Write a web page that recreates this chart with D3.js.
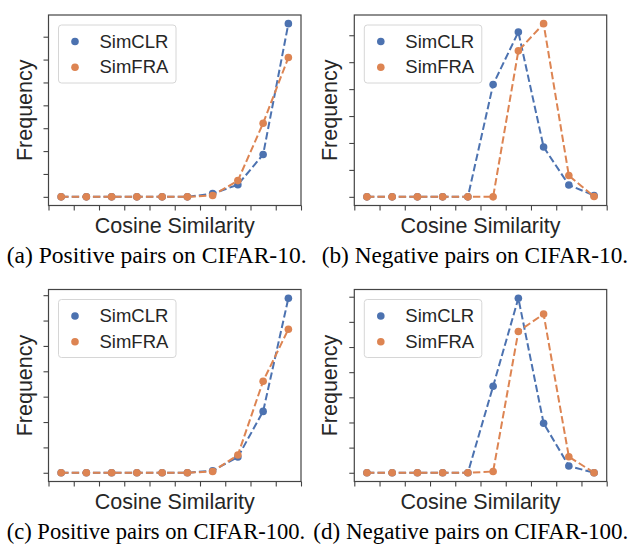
<!DOCTYPE html>
<html>
<head>
<meta charset="utf-8">
<script src="https://cdn.jsdelivr.net/npm/d3@7"></script>
<style>
body { margin: 0; background: #fff; }
svg { display: block; }
</style>
</head>
<body>
<script>
// bin centres along cosine similarity, and the x tick positions
var binCenters = [0.05, 0.15, 0.25, 0.35, 0.45, 0.55, 0.65, 0.75, 0.85, 0.95];
var xTicks = [0, 0.1, 0.2, 0.3, 0.4, 0.5, 0.6, 0.7, 0.8, 0.9, 1.0];
var seriesNames = ["SimCLR", "SimFRA"];

// frequencies (arbitrary units, one unit = one y tick)
var posC10_simclr = [0, 0, 0, 0, 0, 0, 0.14, 0.53, 1.85, 7.57];
var posC10_simfra = [0, 0, 0, 0, 0, 0, 0.06, 0.71, 3.22, 6.09];
var negC10_simclr = [0, 0, 0, 0, 0, 4.17, 6.12, 1.85, 0.44, 0.05];
var negC10_simfra = [0, 0, 0, 0, 0, 0, 5.42, 6.43, 0.79, 0.01];
var posC100_simclr = [0, 0, 0, 0, 0, 0, 0.08, 0.62, 2.42, 6.88];
var posC100_simfra = [0, 0, 0, 0, 0, 0, 0.05, 0.70, 3.61, 5.66];
var negC100_simclr = [0, 0, 0, 0, 0, 3.44, 6.94, 1.97, 0.27, 0];
var negC100_simfra = [0, 0, 0, 0, 0, 0.05, 5.62, 6.31, 0.64, 0];

var captions = [
    "(a) Positive pairs on CIFAR-10.",
    "(b) Negative pairs on CIFAR-10.",
    "(c) Positive pairs on CIFAR-100.",
    "(d) Negative pairs on CIFAR-100."
];

var colors = ["#4C72B0", "#DD8452"];
var frameColor = "#444";

var svg = d3.select("body").append("svg")
    .attr("width", 634)
    .attr("height", 546);

var drawPanel = function(left, right, top, bottom, simclr, simfra, caption, capX, capW){
    var x = d3.scaleLinear().domain([0, 1]).range([left, right]);
    var maxVal = d3.max(simclr.concat(simfra));
    var pad = maxVal * 0.05;
    var y = d3.scaleLinear().domain([-pad, maxVal + pad]).range([bottom, top]);
    var yTicks = d3.range(0, Math.floor(maxVal + pad) + 1);

    var g = svg.append("g");

    // ticks
    var x_axis = d3.axisBottom(x).tickValues(xTicks).tickFormat("").tickSizeOuter(0).tickSize(5);
    var y_axis = d3.axisLeft(y).tickValues(yTicks).tickFormat("").tickSizeOuter(0).tickSize(5);
    g.append("g").attr("transform", "translate(0," + bottom + ")").call(x_axis);
    g.append("g").attr("transform", "translate(" + left + ",0)").call(y_axis);
    g.selectAll(".domain").remove();
    g.selectAll(".tick line").attr("stroke", frameColor).attr("stroke-width", 1.1);

    var line = d3.line()
        .x(function(d, i){ return x(binCenters[i]); })
        .y(function(d){ return y(d); });

    [simclr, simfra].forEach(function(vals, k){
        g.append("path")
            .attr("d", line(vals))
            .attr("fill", "none")
            .attr("stroke", colors[k])
            .attr("stroke-width", 2)
            .attr("stroke-dasharray", "7.4,3.2");
        g.selectAll(".pt" + k)
            .data(vals).enter().append("circle")
            .attr("class", "pt" + k)
            .attr("cx", function(d, i){ return x(binCenters[i]); })
            .attr("cy", function(d){ return y(d); })
            .attr("r", 3.8)
            .attr("fill", colors[k]);
    });

    // frame
    g.append("rect")
        .attr("x", left).attr("y", top)
        .attr("width", right - left).attr("height", bottom - top)
        .attr("fill", "none").attr("stroke", frameColor).attr("stroke-width", 1.2);

    // legend
    var lx = left + 10, ly = top + 10;
    g.append("rect")
        .attr("x", lx).attr("y", ly)
        .attr("width", 117.5).attr("height", 58)
        .attr("rx", 3)
        .attr("fill", "#fff").attr("fill-opacity", 0.8)
        .attr("stroke", "#d6d6d6").attr("stroke-width", 1);
    seriesNames.forEach(function(name, k){
        g.append("circle")
            .attr("cx", lx + 16.5).attr("cy", ly + 16.5 + k * 25.7)
            .attr("r", 3.8).attr("fill", colors[k]);
        g.append("text")
            .attr("x", lx + 41).attr("y", ly + 22.5 + k * 25.7)
            .text(name)
            .style("font-family", "'Liberation Sans', Arial, sans-serif")
            .style("font-size", "18.5px")
            .attr("fill", "#262626");
    });

    // axis labels
    g.append("text")
        .attr("x", (left + right) / 2).attr("y", bottom + 27.5)
        .attr("text-anchor", "middle")
        .text("Cosine Similarity")
        .style("font-family", "'Liberation Sans', Arial, sans-serif")
        .style("font-size", "21.5px")
        .attr("fill", "#262626");
    g.append("text")
        .attr("transform", "translate(" + (left - 17) + "," + ((top + bottom) / 2) + ") rotate(-90)")
        .attr("text-anchor", "middle")
        .text("Frequency")
        .style("font-family", "'Liberation Sans', Arial, sans-serif")
        .style("font-size", "21.5px")
        .attr("fill", "#262626");

    // caption
    g.append("text")
        .attr("x", capX).attr("y", bottom + 57.5)
        .attr("textLength", capW)
        .attr("lengthAdjust", "spacingAndGlyphs")
        .text(caption)
        .style("font-family", "'Liberation Serif', 'Times New Roman', serif")
        .style("font-size", "23px")
        .attr("fill", "#000");
}

drawPanel(48.5, 301, 15, 205.5, posC10_simclr, posC10_simfra, captions[0], 6.7, 300);
drawPanel(354.3, 606.7, 15, 205.5, negC10_simclr, negC10_simfra, captions[1], 321.7, 306.5);
drawPanel(48.5, 301, 289.5, 481.5, posC100_simclr, posC100_simfra, captions[2], 6.7, 298.5);
drawPanel(354.3, 606.7, 289.5, 481.5, negC100_simclr, negC100_simfra, captions[3], 313.3, 315);
</script>
</body>
</html>
